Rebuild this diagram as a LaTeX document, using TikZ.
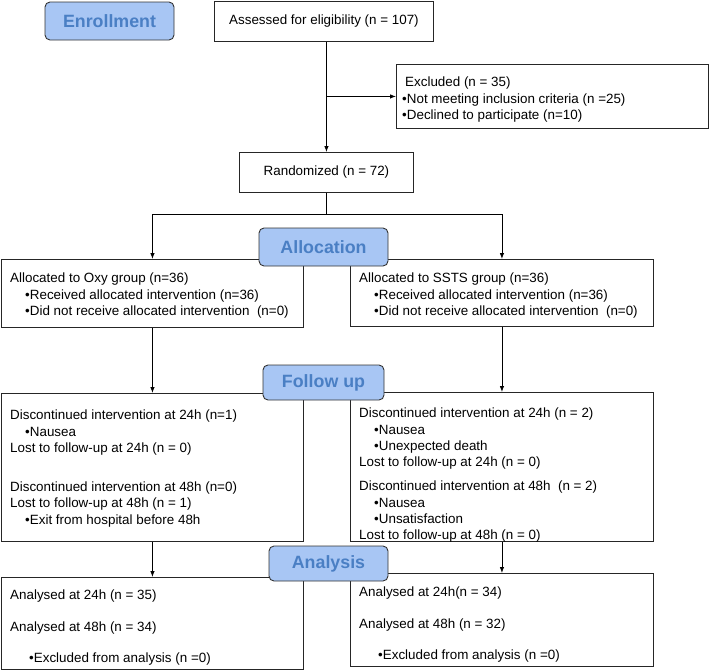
\documentclass[tikz,border=0pt]{standalone}
\usepackage{fontspec}
\setmainfont{Liberation Sans}
\usetikzlibrary{arrows.meta}

\definecolor{phasefill}{RGB}{168,198,244}
\definecolor{phasetext}{RGB}{74,127,196}
\newcommand{\bul}[1][15pt]{\hspace*{#1}\textbullet}

\tikzset{
    box/.style={draw=black!85, line width=0.9pt, anchor=north west, inner sep=0pt},
    txt/.style={anchor=north west, inner sep=0pt, align=left,
        font=\fontsize{13.4}{16.3}\selectfont},
    phase/.style={draw=black!80, line width=0.9pt, fill=phasefill, rounded corners=5pt,
        text=phasetext, font=\fontsize{17.8}{20}\selectfont\bfseries},
    link/.style={line width=0.8pt, -{Latex[length=6pt,width=4.5pt]}}
}

\begin{document}
\begin{tikzpicture}[x=1pt, y=-1pt]
    \useasboundingbox (0,0) rectangle (709,670);
    % Enrollment part
    \node[box, minimum width=219, minimum height=40, font=\fontsize{13.4}{16.3}\selectfont]
        (assess) at (214,1) {Assessed for eligibility (n = 107)};
    \node[box, minimum width=312, minimum height=64] (excl) at (396,64) {};
    \node[txt] (exclt) at ([shift={(6,13)}]excl.north west)
        {\hspace*{3pt}Excluded (n = 35)\\ \textbullet Not meeting inclusion criteria (n =25)\\ \textbullet Declined to participate (n=10)};
    \node[box, minimum width=174, minimum height=40, font=\fontsize{13.4}{16.3}\selectfont]
        (random) at (239,152) {Randomized (n = 72)};

    % Allocation boxes
    \node[box, minimum width=302, minimum height=68] (oxy) at (1,259) {};
    \node[txt] (oxyt) at ([shift={(9,14)}]oxy.north west)
        {Allocated to Oxy group (n=36)\\ \bul Received allocated intervention (n=36)\\ \bul Did not receive allocated intervention~~(n=0)};
    \node[box, minimum width=303, minimum height=67] (ssts) at (350,259) {};
    \node[txt] (sstst) at ([shift={(9,14)}]ssts.north west)
        {Allocated to SSTS group (n=36)\\ \bul Received allocated intervention (n=36)\\ \bul Did not receive allocated intervention~~(n=0)};

    % Follow up boxes
    \node[box, minimum width=302, minimum height=148] (fuoxy) at (1,393) {};
    \node[txt] (fuoxyt) at ([shift={(9,17)}]fuoxy.north west)
        {Discontinued intervention at 24h (n=1)\\ \bul Nausea\\ Lost to follow-up at 24h (n = 0)\\[22.7pt]
         Discontinued intervention at 48h (n=0)\\ Lost to follow-up at 48h (n = 1)\\ \bul Exit from hospital before 48h};
    \node[box, minimum width=303, minimum height=149] (fussts) at (350,392) {};
    \node[txt] (fusstst) at ([shift={(9,16)}]fussts.north west)
        {Discontinued intervention at 24h (n = 2)\\ \bul Nausea\\ \bul Unexpected death\\ Lost to follow-up at 24h (n = 0)\\[7.7pt]
         Discontinued intervention at 48h~~(n = 2)\\ \bul Nausea\\ \bul Unsatisfaction\\ Lost to follow-up at 48h (n = 0)};

    % Analysis boxes
    \node[box, minimum width=302, minimum height=92] (anoxy) at (1,577) {};
    \node[txt] (anoxyt) at ([shift={(9,13)}]anoxy.north west)
        {Analysed at 24h (n = 35)\\[15.2pt] Analysed at 48h (n = 34)\\[15.2pt] \bul[19pt]Excluded from analysis (n =0)};
    \node[box, minimum width=303, minimum height=93] (anssts) at (350,573) {};
    \node[txt] (ansstst) at ([shift={(9,14)}]anssts.north west)
        {Analysed at 24h(n = 34)\\[15.2pt] Analysed at 48h (n = 32)\\[15.2pt] \bul[19pt]Excluded from analysis (n =0)};

    % Draw connectors
    \draw[link] (random.north |- assess.south) -- (random.north);
    \draw[link] (excl.west -| random.north) -- (excl.west);
    \draw[line width=0.8pt] (random.south) -- ++(0,21) coordinate (split);
    \draw[link] (split) -| (oxy.north);
    \draw[link] (split) -| (ssts.north);
    \draw[link] (oxy.south) -- (fuoxy.north);
    \draw[link] (ssts.south) -- (fussts.north);
    \draw[link] (fuoxy.south) -- (anoxy.north);
    \draw[link] (fussts.south) -- (anssts.north);

    % Phase labels
    \node[phase, minimum width=129, minimum height=38] (enrol) at (109.5,21) {Enrollment};
    \node[phase, minimum width=129, minimum height=38] (alloc) at (323.5,247) {Allocation};
    \node[phase, minimum width=121, minimum height=35] (follow) at (323.5,382.5) {Follow up};
    \node[phase, minimum width=119, minimum height=35] (analysis) at (328.5,563.5) {Analysis};
\end{tikzpicture}
\end{document}
